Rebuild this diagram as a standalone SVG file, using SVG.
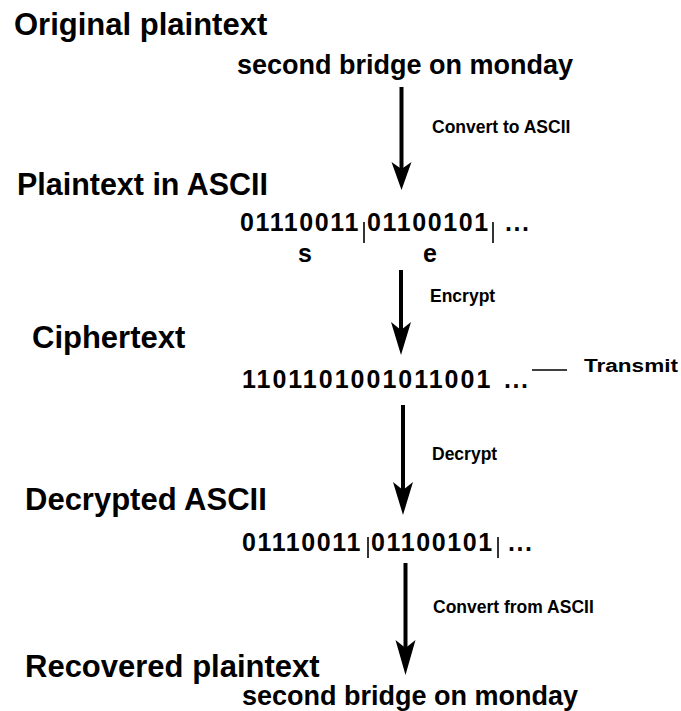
<svg xmlns="http://www.w3.org/2000/svg" width="681" height="711" viewBox="0 0 681 711">
<style>
text{font-family:"Liberation Sans",Arial,Helvetica,sans-serif;font-weight:bold;fill:#000}
.h{font-size:31px}
.p{font-size:27px}
.b{font-size:25px;letter-spacing:1.6px}
.l{font-size:17.5px}
.sep{stroke:#000;stroke-width:1.6}
.shaft{stroke:#000;stroke-width:4}
.head{fill:#000}
</style>
<rect width="681" height="711" fill="#fff"/>
<g id="original">
<text class="h" x="14" y="35">Original plaintext</text>
<text class="p" x="237" y="74">second bridge on monday</text>
</g>
<g id="ascii">
<text class="h" x="17" y="195" textLength="251" lengthAdjust="spacingAndGlyphs">Plaintext in ASCII</text>
<text class="b" x="240" y="231">01110011</text>
<text class="b" x="367" y="231">01100101</text>
<text class="b" x="505" y="231">...</text>
<line class="sep" x1="364" y1="222" x2="364" y2="243"/>
<line class="sep" x1="493" y1="222" x2="493" y2="243"/>
<text class="b" x="298" y="262">s</text>
<text class="b" x="423" y="262">e</text>
</g>
<g id="ciphertext">
<text class="h" x="32" y="348">Ciphertext</text>
<text class="b" x="242" y="388" style="letter-spacing:2px">1101101001011001</text>
<text class="b" x="504" y="388">...</text>
<line class="sep" x1="532" y1="370" x2="567" y2="370"/>
<text class="l" x="584" y="372" textLength="94" lengthAdjust="spacingAndGlyphs">Transmit</text>
</g>
<g id="decrypted">
<text class="h" x="25" y="510">Decrypted ASCII</text>
<text class="b" x="242" y="551">01110011</text>
<text class="b" x="371" y="551">01100101</text>
<text class="b" x="508" y="551">...</text>
<line class="sep" x1="368" y1="537" x2="368" y2="558"/>
<line class="sep" x1="498" y1="537" x2="498" y2="558"/>
</g>
<g id="recovered">
<text class="h" x="25" y="677">Recovered plaintext</text>
<text class="p" x="242" y="705">second bridge on monday</text>
</g>
<g id="connectors">
<line class="shaft" x1="401.5" y1="87" x2="401.5" y2="175"/>
<path class="head" d="M391.5 162 L401.5 190 L411.5 162 L401.5 169 Z"/>
<text class="l" x="432" y="133">Convert to ASCII</text>
<line class="shaft" x1="401" y1="270" x2="401" y2="340"/>
<path class="head" d="M391 322 L401 355 L411 322 L401 330 Z"/>
<text class="l" x="430" y="302">Encrypt</text>
<line class="shaft" x1="403" y1="405" x2="403" y2="500"/>
<path class="head" d="M393 482 L403 515 L413 482 L403 490 Z"/>
<text class="l" x="432" y="460">Decrypt</text>
<line class="shaft" x1="405.5" y1="563" x2="405.5" y2="660"/>
<path class="head" d="M395.5 640 L405.5 675 L415.5 640 L405.5 648 Z"/>
<text class="l" x="433" y="613">Convert from ASCII</text>
</g>
</svg>
